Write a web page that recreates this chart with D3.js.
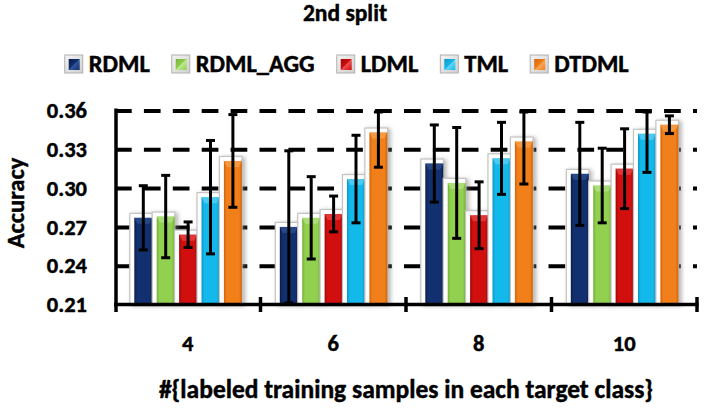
<!DOCTYPE html>
<html><head><meta charset="utf-8">
<script src="https://cdn.jsdelivr.net/npm/d3@7"></script>
<style>
body{margin:0;background:#fff}
text{font-family:Carlito,Lato,sans-serif;font-weight:bold;fill:#000;stroke:#000;stroke-width:0.45px}
</style>
</head><body>
<svg id="c" width="704" height="409"></svg>
<script>
// ---- data ----
const categories = ["4", "6", "8", "10"];
const seriesNames = ["RDML", "RDML_AGG", "LDML", "TML", "DTDML"];
const RDML      = [0.277, 0.270, 0.319, 0.311];
const RDML_err  = [0.026, 0.060, 0.031, 0.041];
const AGG       = [0.278, 0.277, 0.304, 0.302];
const AGG_err   = [0.033, 0.033, 0.044, 0.030];
const LDML      = [0.264, 0.280, 0.279, 0.315];
const LDML_err  = [0.011, 0.015, 0.027, 0.032];
const TML       = [0.293, 0.307, 0.323, 0.342];
const TML_err   = [0.045, 0.035, 0.029, 0.031];
const DTDML     = [0.321, 0.343, 0.336, 0.349];
const DTDML_err = [0.037, 0.028, 0.034, 0.008];
const yTicks = [0.21, 0.24, 0.27, 0.30, 0.33, 0.36];
const titleText = "2nd split";
const xTitle = "#{labeled training samples in each target class}";
const yTitle = "Accuracy";

const values = [RDML, AGG, LDML, TML, DTDML];
const errors = [RDML_err, AGG_err, LDML_err, TML_err, DTDML_err];
const palette = [
  {base:"#12306f", dark:"#0a1c48", light:"#34569a"},
  {base:"#92d050", dark:"#74b238", light:"#bde890"},
  {base:"#d10f0f", dark:"#a00606", light:"#ec5050"},
  {base:"#14b9ec", dark:"#0a97c8", light:"#6ad6f6"},
  {base:"#f2801a", dark:"#cf640a", light:"#f9aa5c"}
];

const svg = d3.select("#c");
const FS_NUM = 22.5, FS_LEG = 24.5, FS_TITLE = 23.5, FS_XT = 25.5, FS_YT = 24.5;

const x0 = d3.scaleBand().domain(categories).range([115, 697]);
const x1 = d3.scaleBand().domain(seriesNames).range([17, 129]);
const y = d3.scaleLinear().domain([0.21, 0.36]).range([304.5, 110.5]);

// defs
const defs = svg.append("defs");
palette.forEach((p, i) => {
  const g = defs.append("linearGradient").attr("id", "bar" + i).attr("x1", 0).attr("x2", 1).attr("y1", 0).attr("y2", 0);
  [[0, p.dark], [0.16, p.base], [0.84, p.base], [1, p.dark]].forEach(s => g.append("stop").attr("offset", s[0]).attr("stop-color", s[1]));
  const l = defs.append("linearGradient").attr("id", "leg" + i).attr("x1", 0).attr("x2", 1).attr("y1", 0).attr("y2", 1);
  [[0, p.dark], [0.5, p.base], [0.5, p.light], [1, p.base]].forEach(s => l.append("stop").attr("offset", s[0]).attr("stop-color", s[1]));
});
const f = defs.append("filter").attr("id", "sh").attr("x", "-30%").attr("y", "-10%").attr("width", "160%").attr("height", "130%");
f.append("feDropShadow").attr("dx", 2.5).attr("dy", 1).attr("stdDeviation", 2).attr("flood-color", "#777").attr("flood-opacity", 0.55);
const sw = defs.append("linearGradient").attr("id", "swbg").attr("x1", 0).attr("x2", 1).attr("y1", 0).attr("y2", 1);
[[0, "#f4f4f4"], [1, "#cfcfcf"]].forEach(s => sw.append("stop").attr("offset", s[0]).attr("stop-color", s[1]));

// title
svg.append("text").attr("x", 345).attr("y", 21).attr("text-anchor", "middle").attr("font-size", FS_TITLE).text(titleText);

// legend
const leg = svg.append("g");
let lx = 0;
seriesNames.forEach((s, i) => {
  const it = leg.append("g").attr("transform", `translate(${lx},0)`);
  it.append("rect").attr("x", 0).attr("y", 55).attr("width", 18).attr("height", 18).attr("fill", "url(#swbg)").attr("stroke", "#b0b0b0").attr("stroke-width", 1);
  it.append("rect").attr("x", 4).attr("y", 59).attr("width", 11).attr("height", 11).attr("fill", `url(#leg${i})`);
  const t = it.append("text").attr("x", 24).attr("y", 72).attr("font-size", FS_LEG).text(s);
  lx += 24 + t.node().getComputedTextLength() + 22;
});
lx -= 22;
leg.attr("transform", `translate(${346.7 - lx / 2},0)`);

// gridlines
svg.append("g").attr("transform", "translate(115,0)")
  .call(d3.axisLeft(y).tickValues(yTicks.slice(1)).tickSize(-582).tickFormat(""))
  .call(g => g.select(".domain").remove())
  .selectAll("line").attr("stroke", "#000").attr("stroke-width", 4).attr("stroke-dasharray", "16.7,12.2");

// bars
categories.forEach((c, ci) => {
  const g = svg.append("g").attr("transform", `translate(${x0(c)},0)`);
  seriesNames.forEach((s, si) => {
    const v = values[si][ci];
    const bx = x1(s), bw = x1.bandwidth();
    const top = y(v);
    g.append("rect").attr("x", bx - 2.2).attr("y", top - 4.5).attr("width", bw + 0.2).attr("height", y(0.21) - top + 4.5)
      .attr("fill", "#fff").attr("stroke", "#c4c4c4").attr("stroke-width", 1.2).attr("filter", "url(#sh)");
    const cx = bx + 2.3, cw = bw - 4.4;
    g.append("rect").attr("x", cx).attr("y", top).attr("width", cw).attr("height", y(0.21) - top).attr("fill", `url(#bar${si})`);
    g.append("path").attr("d", `M${cx},${top}L${cx + cw},${top}L${cx + cw - 3},${top + 6}L${cx + 3},${top + 6}Z`)
      .attr("fill", palette[si].light).attr("opacity", 0.6);
  });
});

// error bars
const clamp = v => Math.max(0.21, Math.min(0.36, v));
categories.forEach((c, ci) => {
  const g = svg.append("g").attr("transform", `translate(${x0(c)},0)`);
  seriesNames.forEach((s, si) => {
    const v = values[si][ci], e = errors[si][ci];
    const cx = x1(s) + x1.bandwidth() / 2 + 0.1;
    const yt = y(clamp(v + e)) + 1.5, yb = y(clamp(v - e)) - 1.5;
    g.append("line").attr("x1", cx).attr("x2", cx).attr("y1", yt).attr("y2", yb).attr("stroke", "#000").attr("stroke-width", 3);
    [yt, yb].forEach(yy => g.append("line").attr("x1", cx - 4.5).attr("x2", cx + 4.5).attr("y1", yy).attr("y2", yy).attr("stroke", "#000").attr("stroke-width", 3));
  });
});

// axes lines
svg.append("line").attr("x1", 116).attr("x2", 116).attr("y1", 108.5).attr("y2", 312).attr("stroke", "#000").attr("stroke-width", 3.5);
svg.append("line").attr("x1", 114).attr("x2", 698.5).attr("y1", 304.5).attr("y2", 304.5).attr("stroke", "#000").attr("stroke-width", 3.5);
const bounds = categories.map(c => x0(c)).concat([x0(categories[categories.length - 1]) + x0.bandwidth()]);
bounds.slice(1).forEach(bx => svg.append("line").attr("x1", bx).attr("x2", bx).attr("y1", 297).attr("y2", 312).attr("stroke", "#000").attr("stroke-width", 3.5));

// y tick labels
svg.append("g").attr("transform", "translate(116,0)")
  .call(d3.axisLeft(y).tickValues(yTicks).tickFormat(d3.format(".2f")).tickSize(0).tickPadding(29))
  .call(g => g.select(".domain").remove())
  .call(g => g.selectAll("text").attr("font-size", FS_NUM).attr("fill", "#000"))
  .attr("font-family", null).attr("font-size", null);

// x tick labels
svg.append("g").attr("transform", "translate(0,304.5)")
  .call(d3.axisBottom(x0).tickSize(0).tickPadding(31))
  .call(g => g.select(".domain").remove())
  .call(g => g.selectAll("text").attr("font-size", FS_NUM).attr("fill", "#000"))
  .attr("font-family", null).attr("font-size", null);

// axis titles
svg.append("text").attr("x", 406).attr("y", 397.5).attr("text-anchor", "middle").attr("font-size", FS_XT).text(xTitle);
svg.append("text").attr("transform", "translate(24,203) rotate(-90)").attr("text-anchor", "middle").attr("font-size", FS_YT).text(yTitle);
</script>
</body></html>
